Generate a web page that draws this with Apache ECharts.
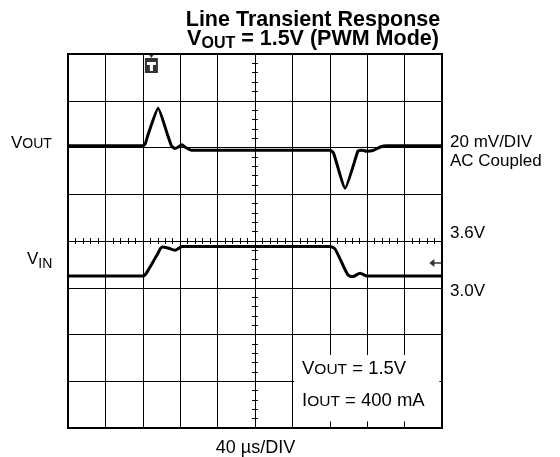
<!DOCTYPE html>
<html>
<head>
<meta charset="utf-8">
<script src="https://cdn.jsdelivr.net/npm/echarts@6/dist/echarts.min.js"></script>
<style>html,body{margin:0;padding:0;background:#fff}#c{width:560px;height:457px}</style>
</head>
<body>
<div id="c"></div>
<script>
// Time in divisions relative to screen centre (40 us/DIV), level in divisions relative to centre line
const voutTime  = [-5.0, -2.99, -2.93, -2.85, -2.59, -2.33, -2.23, -2.14, -2.05, -1.96, -1.85, -1.70, 2.01, 2.10, 2.41, 2.72, 2.75, 2.86, 2.99, 3.17, 3.35, 3.51, 5.0];
const voutLevel = [2.04, 2.04, 2.09, 2.30, 2.84, 2.25, 2.03, 1.98, 2.01, 2.06, 2.00, 1.94, 1.94, 1.88, 1.13, 1.85, 1.92, 1.94, 1.92, 1.94, 2.01, 2.04, 2.04];
const vinTime   = [-5.0, -3.0, -2.90, -2.62, -2.48, -2.33, -2.14, -1.95, 2.0, 2.14, 2.48, 2.62, 2.81, 3.0, 5.0];
const vinLevel  = [-0.75, -0.75, -0.68, -0.30, -0.13, -0.15, -0.20, -0.12, -0.12, -0.17, -0.72, -0.76, -0.69, -0.75, -0.75];
const xDivs = [-5, 5];
const yDivs = [-4, 4];
const triggerPos = [-2.77, 3.81];
const groundMarkPos = [4.82, -0.47];
const infoBox = [[1.05, -2.44], [4.93, -3.86]];

const zip = (a, b) => a.map((v, i) => [v, b[i]]);
const FONT = "'Liberation Sans', Arial, Helvetica, sans-serif";
const BLACK = '#000';

function centreAxis(kind, pos) {
  const isX = kind === 'x';
  return {
    type: 'value',
    min: isX ? xDivs[0] : yDivs[0],
    max: isX ? xDivs[1] : yDivs[1],
    interval: 1,
    position: pos,
    axisLine: { show: true, onZero: true, onZeroAxisIndex: 0, lineStyle: { color: BLACK, width: 1 } },
    axisTick: { show: false },
    minorTick: { show: true, splitNumber: 5, length: 3, lineStyle: { color: BLACK, width: 1 } },
    axisLabel: { show: false },
    splitLine: { show: false },
    minorSplitLine: { show: false }
  };
}

const xA0 = centreAxis('x', 'bottom');
xA0.splitLine = { show: true, lineStyle: { color: BLACK, width: 1 } };
const yA0 = centreAxis('y', 'left');
yA0.splitLine = { show: true, lineStyle: { color: BLACK, width: 1 } };

const rich = {
  v:  { fontSize: 17, fontFamily: FONT, fill: BLACK, color: BLACK, lineHeight: 16 },
  sc: { fontSize: 14, fontFamily: FONT, fill: BLACK, color: BLACK, verticalAlign: 'bottom' },
  bv: { fontSize: 18.5, fontFamily: FONT, fill: BLACK, color: BLACK, lineHeight: 17 },
  bs: { fontSize: 15.5, fontFamily: FONT, fill: BLACK, color: BLACK, verticalAlign: 'bottom' },
  vi: { fontSize: 17, fontFamily: FONT, fill: BLACK, color: BLACK, lineHeight: 24 },
  sub:{ fontSize: 14, fontFamily: FONT, fill: BLACK, color: BLACK, verticalAlign: 'bottom' },
  tv: { fontSize: 21.5, fontFamily: FONT, fontWeight: 'bold', fill: BLACK, color: BLACK, lineHeight: 25 },
  ts: { fontSize: 16, fontFamily: FONT, fontWeight: 'bold', fill: BLACK, color: BLACK, verticalAlign: 'bottom' }
};

function txt(x, y, text, opts) {
  return {
    type: 'text', x: x, y: y, z: 100, silent: true,
    style: Object.assign({ text: text, fill: BLACK, font: '17px ' + FONT, align: 'left', verticalAlign: 'middle', rich: rich }, opts || {})
  };
}

const chart = echarts.init(document.getElementById('c'), null, { renderer: 'canvas' });
chart.setOption({
  backgroundColor: '#fff',
  animation: false,
  grid: { left: 68, top: 54, width: 374, height: 374, show: true, borderColor: BLACK, borderWidth: 2, backgroundColor: 'transparent' },
  xAxis: [xA0, centreAxis('x', 'top')],
  yAxis: [yA0, centreAxis('y', 'right')],
  series: [
    {
      type: 'line', name: 'VOUT', data: zip(voutTime, voutLevel), xAxisIndex: 0, yAxisIndex: 0,
      showSymbol: false, smooth: 0.15, lineStyle: { color: BLACK, width: 3 }, z: 5
    },
    {
      type: 'line', name: 'VIN', data: zip(vinTime, vinLevel), xAxisIndex: 0, yAxisIndex: 0,
      showSymbol: false, smooth: 0.25, lineStyle: { color: BLACK, width: 3 }, z: 5,
      markArea: {
        silent: true, itemStyle: { color: '#fff', borderWidth: 0 },
        data: [[{ coord: infoBox[0] }, { coord: infoBox[1] }]]
      }
    },
    {
      type: 'scatter', name: 'trigger', xAxisIndex: 0, yAxisIndex: 0, silent: true, z: 6,
      data: [triggerPos],
      symbol: 'path://M3,0 L10,0 L6.5,5 Z M0,5 L13,5 L13,20 L0,20 Z M2,9 L2,12 L5,12 L5,18 L8,18 L8,12 L11,12 L11,9 Z',
      symbolSize: [13, 20], itemStyle: { color: BLACK }
    },
    {
      type: 'scatter', name: 'ground', xAxisIndex: 0, yAxisIndex: 0, silent: true, z: 6,
      data: [groundMarkPos],
      symbol: 'path://M0,5 L6,0 L6,4 L14,4 L14,6 L6,6 L6,10 Z',
      symbolSize: [12, 8], itemStyle: { color: BLACK }
    }
  ],
  graphic: [
    txt(313, 20, 'Line Transient Response', { font: 'bold 21.5px ' + FONT, align: 'center' }),
    txt(313, 39, '{tv|V}{ts|OUT}{tv| = 1.5V (PWM Mode)}', { align: 'center' }),
    txt(11, 143, '{v|V}{sc|OUT}'),
    txt(27, 259, '{vi|V}{sub|IN}'),
    txt(450, 142, '20 mV/DIV'),
    txt(450, 161, 'AC Coupled'),
    txt(450, 233, '3.6V'),
    txt(450, 291, '3.0V'),
    txt(255.5, 448, '40 \u00b5s/DIV', { font: '18px ' + FONT, align: 'center' }),
    txt(302, 369, '{bv|V}{bs|OUT}{bv| = 1.5V}'),
    txt(302, 401, '{bv|I}{bs|OUT}{bv| = 400 mA}')
  ]
});
</script>
</body>
</html>
